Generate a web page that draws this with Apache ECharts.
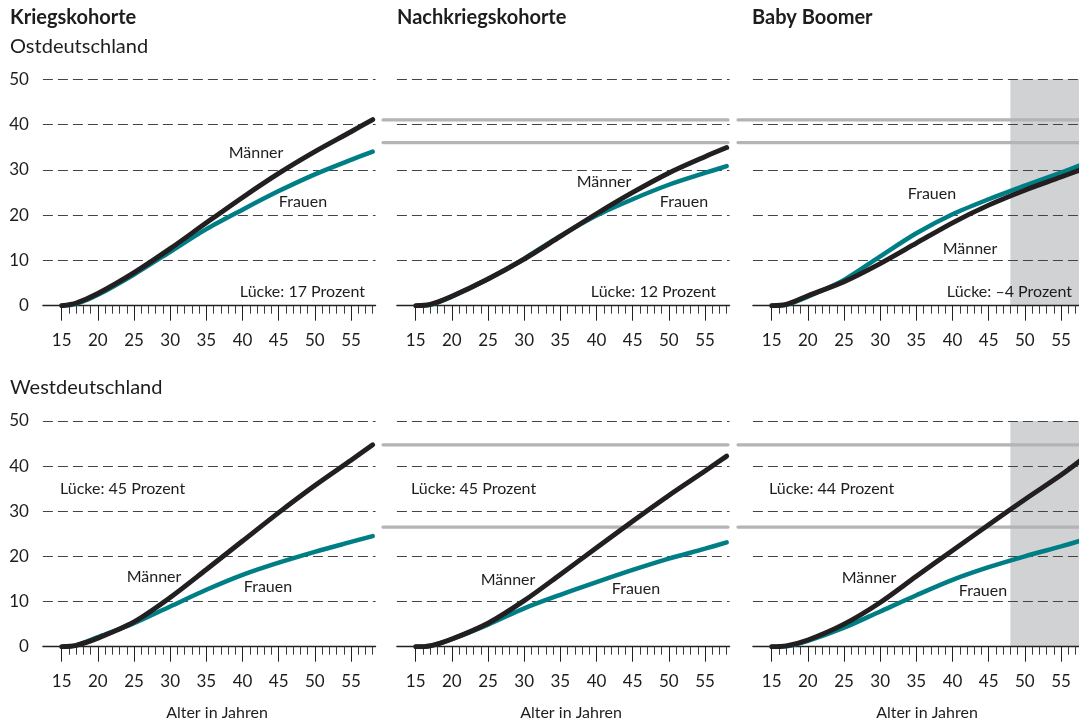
<!DOCTYPE html>
<html>
<head>
<meta charset="utf-8">
<style>
  html, body { margin: 0; padding: 0; background: #ffffff; }
  #chart { width: 1079px; height: 724px; }
</style>
<script src="https://cdn.jsdelivr.net/npm/echarts@6/dist/echarts.min.js"></script>
</head>
<body>
<div id="chart"></div>
<script>
// ---------- Data ----------
const ages = [15, 17, 20, 25, 30, 35, 40, 45, 50, 55, 58];
const cohorts = ['Kriegskohorte', 'Nachkriegskohorte', 'Baby Boomer'];
const regions = ['Ostdeutschland', 'Westdeutschland'];

// Ostdeutschland
const ostKriegMaenner = [0, 0.6, 2.7, 7.3, 12.6, 18.3, 23.9, 29.2, 34.0, 38.4, 41.1];
const ostKriegFrauen  = [0, 0.4, 2.4, 6.9, 11.9, 16.9, 21.2, 25.3, 29.0, 32.2, 34.0];
const ostNachMaenner  = [0, 0.3, 2.1, 5.9, 10.3, 15.3, 20.3, 25.0, 29.3, 32.9, 34.9];
const ostNachFrauen   = [0, 0.2, 2.0, 5.9, 10.4, 15.4, 19.9, 23.5, 26.7, 29.3, 30.8];
const ostBoomMaenner  = [0, 0.3, 2.2, 5.3, 9.3, 13.8, 18.3, 22.2, 25.5, 28.4, 30.2];
const ostBoomFrauen   = [0, 0.2, 2.0, 5.7, 10.9, 16.0, 20.2, 23.5, 26.5, 29.4, 31.2];

// Westdeutschland
const westKriegMaenner = [0, 0.3, 1.9, 5.5, 10.9, 17.1, 23.4, 29.7, 35.7, 41.3, 44.7];
const westKriegFrauen  = [0, 0.3, 2.1, 5.2, 8.9, 12.6, 15.9, 18.6, 21.0, 23.2, 24.5];
const westNachMaenner  = [0, 0.2, 1.7, 5.2, 10.2, 16.0, 21.9, 27.8, 33.5, 38.9, 42.2];
const westNachFrauen   = [0, 0.2, 1.7, 4.9, 8.5, 11.5, 14.3, 17.0, 19.5, 21.7, 23.1];
const westBoomMaenner  = [0, 0.2, 1.5, 5.0, 9.8, 15.6, 21.3, 27.0, 32.6, 38.0, 41.6];
const westBoomFrauen   = [0, 0.1, 1.3, 4.2, 7.8, 11.4, 14.8, 17.6, 20.0, 22.2, 23.6];

// Gap labels
const gapOst  = ['Lücke: 17 Prozent', 'Lücke: 12 Prozent', 'Lücke: –4 Prozent'];
const gapWest = ['Lücke: 45 Prozent', 'Lücke: 45 Prozent', 'Lücke: 44 Prozent'];

// Reference (grey) lines
const refOst  = [41, 36];
const refWest = [44.7, 26.5];

// Shaded projection range (Baby Boomer)
const shadeFrom = 48;
const shadeTop = 50;

// Ticks
const xLabelTicks = [15, 20, 25, 30, 35, 40, 45, 50, 55];
const xMin = 12.4, xMax = 58.4;

// ---------- Layout ----------
const FONT = 'Lato, "Open Sans", sans-serif';
const TXT = '#1f1c1d';
const BLACK = '#231f20';
const TEAL = '#007e86';
const GRID_COL = '#444444';
const REF_COL = '#b3b4b6';
const SHADE_COL = '#d1d2d4';

const colLeft = [42.9, 396.9, 752.9];
const colWidth = 332.7;
const rowTop = [79.2, 420.9];
const rowHeight = [226.5, 225.8];

const minorTicks = [];
for (let a = 16; a <= 58; a++) if (a % 5 !== 0) minorTicks.push(a);

const seriesData = [
  [[ostKriegMaenner, ostKriegFrauen], [ostNachMaenner, ostNachFrauen], [ostBoomMaenner, ostBoomFrauen]],
  [[westKriegMaenner, westKriegFrauen], [westNachMaenner, westNachFrauen], [westBoomMaenner, westBoomFrauen]]
];

const grid = [], xAxis = [], yAxis = [], series = [];
const pairs = arr => ages.map((a, i) => [a, arr[i]]);

for (let r = 0; r < 2; r++) {
  for (let c = 0; c < 3; c++) {
    const gi = grid.length;
    grid.push({ left: colLeft[c], width: colWidth, top: rowTop[r], height: rowHeight[r],
                containLabel: false, outerBoundsMode: 'none' });
    const xi = xAxis.length;
    xAxis.push({
      type: 'value', gridIndex: gi, position: 'bottom', min: xMin, max: xMax, z: 3,
      axisLine: { show: true, onZero: false, lineStyle: { color: BLACK, width: 1.3 } },
      axisTick: { show: true, customValues: xLabelTicks, length: 15, lineStyle: { color: BLACK, width: 1 } },
      axisLabel: { show: true, customValues: xLabelTicks, margin: 26, fontFamily: FONT, fontSize: 17, color: TXT },
      splitLine: { show: false }
    });
    xAxis.push({
      type: 'value', gridIndex: gi, position: 'bottom', min: xMin, max: xMax, z: 3,
      axisLine: { show: false, onZero: false },
      axisTick: { show: true, customValues: minorTicks, length: 8, lineStyle: { color: '#3a3a3a', width: 1 } },
      axisLabel: { show: false },
      splitLine: { show: false }
    });
    const yi = yAxis.length;
    yAxis.push({
      type: 'value', gridIndex: gi, min: 0, max: 50, interval: 10, z: 1,
      axisLine: { show: false }, axisTick: { show: false },
      axisLabel: { show: c === 0, margin: 14, fontFamily: FONT, fontSize: 17, color: TXT },
      splitLine: { show: true, lineStyle: { color: GRID_COL, width: 1, type: [10, 5] } }
    });
    if (c === 2) {
      series.push({
        type: 'line', xAxisIndex: xi, yAxisIndex: yi, z: 0,
        data: [[shadeFrom, shadeTop], [xMax, shadeTop]],
        showSymbol: false, silent: true,
        lineStyle: { width: 0, opacity: 0 },
        areaStyle: { color: SHADE_COL, opacity: 1, origin: 'start' }
      });
    }
    const [m, f] = seriesData[r][c];
    series.push({
      name: 'Frauen', type: 'line', xAxisIndex: xi, yAxisIndex: yi, z: 4,
      data: pairs(f), smooth: 0.3, showSymbol: false, silent: true,
      lineStyle: { color: TEAL, width: 4.5, cap: 'round' }
    });
    series.push({
      name: 'Männer', type: 'line', xAxisIndex: xi, yAxisIndex: yi, z: 5,
      data: pairs(m), smooth: 0.3, showSymbol: false, silent: true,
      lineStyle: { color: BLACK, width: 4.9, cap: 'round' }
    });
  }
  // grey reference lines spanning cohorts 2 and 3
  const refSegs = [[383, 345], [738, 350]];
  const refs = r === 0 ? refOst : refWest;
  refSegs.forEach(seg => {
    const gi = grid.length;
    grid.push({ left: seg[0], width: seg[1], top: rowTop[r], height: rowHeight[r], outerBoundsMode: 'none' });
    const xi = xAxis.length;
    xAxis.push({ type: 'value', gridIndex: gi, min: 0, max: 1, show: false });
    const yi = yAxis.length;
    yAxis.push({ type: 'value', gridIndex: gi, min: 0, max: 50, show: false });
    refs.forEach(v => {
      series.push({
        type: 'line', xAxisIndex: xi, yAxisIndex: yi, z: 3,
        data: [[0, v], [1, v]], showSymbol: false, silent: true,
        lineStyle: { color: REF_COL, width: 3.2, cap: 'round' }
      });
    });
  });
}

// ---------- Text annotations ----------
function txt(text, x, y, opts) {
  opts = opts || {};
  return {
    type: 'text', z: 10, silent: true,
    style: {
      text: text, x: x, y: y,
      fill: TXT,
      font: (opts.bold ? 'bold ' : '') + (opts.size || 16) + 'px ' + FONT,
      textAlign: opts.align || 'center',
      textVerticalAlign: 'middle'
    }
  };
}

const graphic = [
  txt(cohorts[0], 10, 18, { bold: true, size: 20, align: 'left' }),
  txt(cohorts[1], 397, 18, { bold: true, size: 20, align: 'left' }),
  txt(cohorts[2], 752, 18, { bold: true, size: 20, align: 'left' }),
  txt(regions[0], 10, 47, { size: 20, align: 'left' }),
  txt(regions[1], 10, 388, { size: 20, align: 'left' }),

  // Ost labels
  txt('Männer', 256, 153), txt('Frauen', 303, 202), txt(gapOst[0], 365, 292, { align: 'right' }),
  txt('Männer', 604, 182), txt('Frauen', 684, 202), txt(gapOst[1], 716, 292, { align: 'right' }),
  txt('Frauen', 932, 194), txt('Männer', 970, 249), txt(gapOst[2], 1072, 292, { align: 'right' }),

  // West labels
  txt(gapWest[0], 60, 489, { align: 'left' }), txt('Männer', 154, 577), txt('Frauen', 268, 587),
  txt(gapWest[1], 411, 489, { align: 'left' }), txt('Männer', 508, 580), txt('Frauen', 636, 589),
  txt(gapWest[2], 769, 489, { align: 'left' }), txt('Männer', 869, 578), txt('Frauen', 983, 591),

  txt('Alter in Jahren', 217, 713), txt('Alter in Jahren', 571, 713), txt('Alter in Jahren', 927, 713)
];

const chart = echarts.init(document.getElementById('chart'), null, { renderer: 'canvas' });
chart.setOption({
  animation: false,
  backgroundColor: '#ffffff',
  textStyle: { fontFamily: FONT },
  grid: grid, xAxis: xAxis, yAxis: yAxis, series: series,
  graphic: graphic
});
</script>
</body>
</html>
